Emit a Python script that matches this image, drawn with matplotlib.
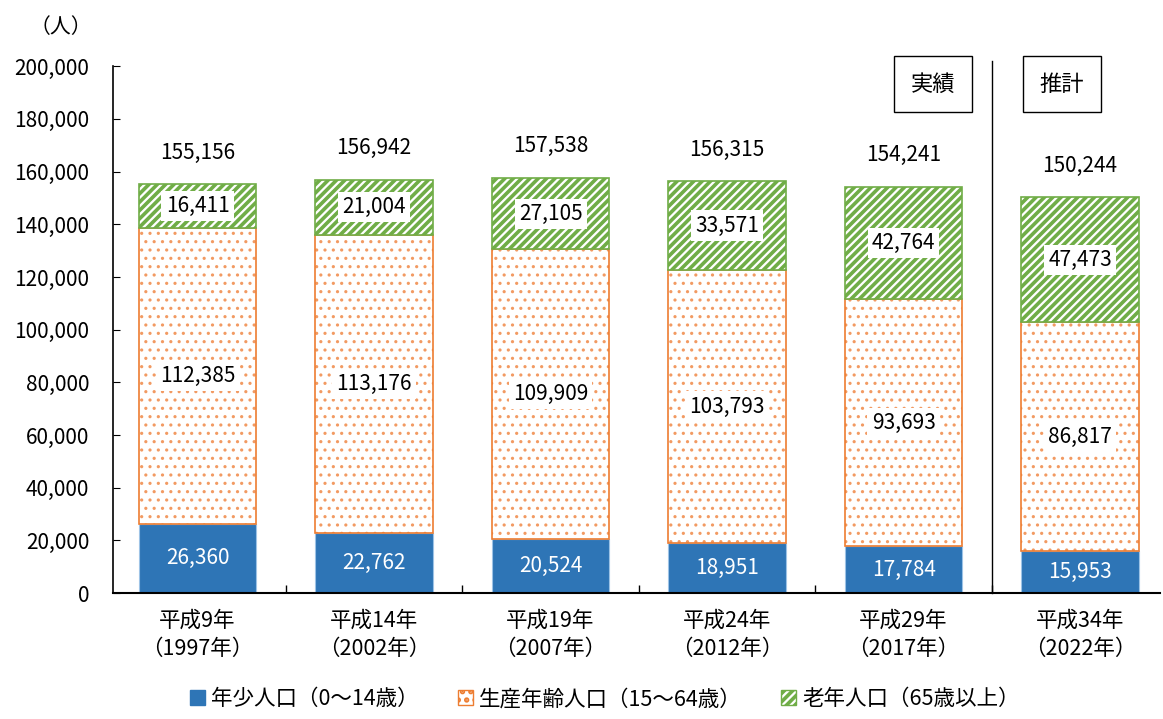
import matplotlib
matplotlib.use("Agg")
import matplotlib.pyplot as plt
from matplotlib.patches import Patch
from matplotlib.ticker import FuncFormatter

plt.rcParams['font.family'] = ['Noto Sans CJK JP', 'DejaVu Sans']

# data
years = ["平成9年\n（1997年）", "平成14年\n（2002年）", "平成19年\n（2007年）",
         "平成24年\n（2012年）", "平成29年\n（2017年）", "平成34年\n（2022年）"]
young = [26360, 22762, 20524, 18951, 17784, 15953]
working = [112385, 113176, 109909, 103793, 93693, 86817]
old = [16411, 21004, 27105, 33571, 42764, 47473]
totals = [155156, 156942, 157538, 156315, 154241, 150244]
legend_labels = ["年少人口（0〜14歳）", "生産年齢人口（15〜64歳）", "老年人口（65歳以上）"]

blue = "#2E75B6"
orange = "#ED7D31"
dot_col = "#F29A62"
green = "#70AD47"

fig = plt.figure(figsize=(11.63, 7.19), dpi=100)
ax = fig.add_axes([0.097, 0.175, 0.9, 0.733])

x = list(range(len(years)))
w = 0.667
bottom2 = [a + b for a, b in zip(young, working)]

ax.bar(x, young, w, color=blue, edgecolor="#9DC3E6", linewidth=0.8)

# dotted middle segment: hatch layer in lighter orange, then the outline
plt.rcParams['hatch.linewidth'] = 1.1
ax.bar(x, working, w, bottom=young, facecolor="white", edgecolor=dot_col,
       hatch="..", linewidth=0)
ax.bar(x, working, w, bottom=young, facecolor="none", edgecolor=orange,
       linewidth=1.2)

plt.rcParams['hatch.linewidth'] = 2.6
ax.bar(x, old, w, bottom=bottom2, facecolor="white", edgecolor=green,
       hatch="////", linewidth=1.2)

fs = 15
box = dict(facecolor="white", edgecolor="none", pad=3)
for i in x:
    ax.text(i, young[i] / 2, f"{young[i]:,}", ha="center", va="center",
            color="white", fontsize=fs)
    ax.text(i, young[i] + working[i] / 2, f"{working[i]:,}", ha="center",
            va="center", fontsize=fs, bbox=box)
    ax.text(i, bottom2[i] + old[i] / 2, f"{old[i]:,}", ha="center",
            va="center", fontsize=fs, bbox=box)
    ax.text(i, totals[i] + 12000, f"{totals[i]:,}", ha="center",
            va="center", fontsize=fs)

ax.set_xlim(-0.48, 5.45)
ax.set_ylim(0, 200000)
ax.set_yticks(range(0, 200001, 20000))
ax.yaxis.set_major_formatter(FuncFormatter(lambda v, p: f"{int(v):,}"))
ax.set_xticks(x)
ax.set_xticklabels(years, fontsize=fs + 0.5, linespacing=1.35)
ax.set_xticks([i + 0.5 for i in x[:-1]], minor=True)
ax.tick_params(axis="x", which="major", length=0, pad=12)
ax.tick_params(axis="x", which="minor", direction="in", length=6, width=1)
ax.tick_params(axis="y", direction="in", length=5, labelsize=fs, pad=17)

for s in ["top", "right"]:
    ax.spines[s].set_visible(False)
ax.spines["left"].set_linewidth(1.2)
ax.spines["bottom"].set_linewidth(1.5)

# actual / projection divider
ax.plot([4.5, 4.5], [0, 202000], color="black", linewidth=1, clip_on=False)
tb = dict(facecolor="white", edgecolor="black", boxstyle="square,pad=0.75", linewidth=1)
ax.text(4.165, 193200, "実績", ha="center", va="center", fontsize=fs + 1, bbox=tb)
ax.text(4.898, 193200, "推計", ha="center", va="center", fontsize=fs + 1, bbox=tb)

fig.text(0.052, 0.963, "（人）", ha="center", va="center", fontsize=fs)

handles = [Patch(facecolor=blue, edgecolor=blue),
           Patch(facecolor="white", edgecolor=orange, hatch=".."),
           Patch(facecolor="white", edgecolor=green, hatch="////")]
fig.legend(handles, legend_labels, loc="lower center", ncol=3,
           bbox_to_anchor=(0.52, -0.015), frameon=False, fontsize=fs + 0.5,
           handlelength=0.7, handleheight=0.7, handletextpad=0.3,
           columnspacing=1.8)

fig.savefig("out.png", dpi=100)
